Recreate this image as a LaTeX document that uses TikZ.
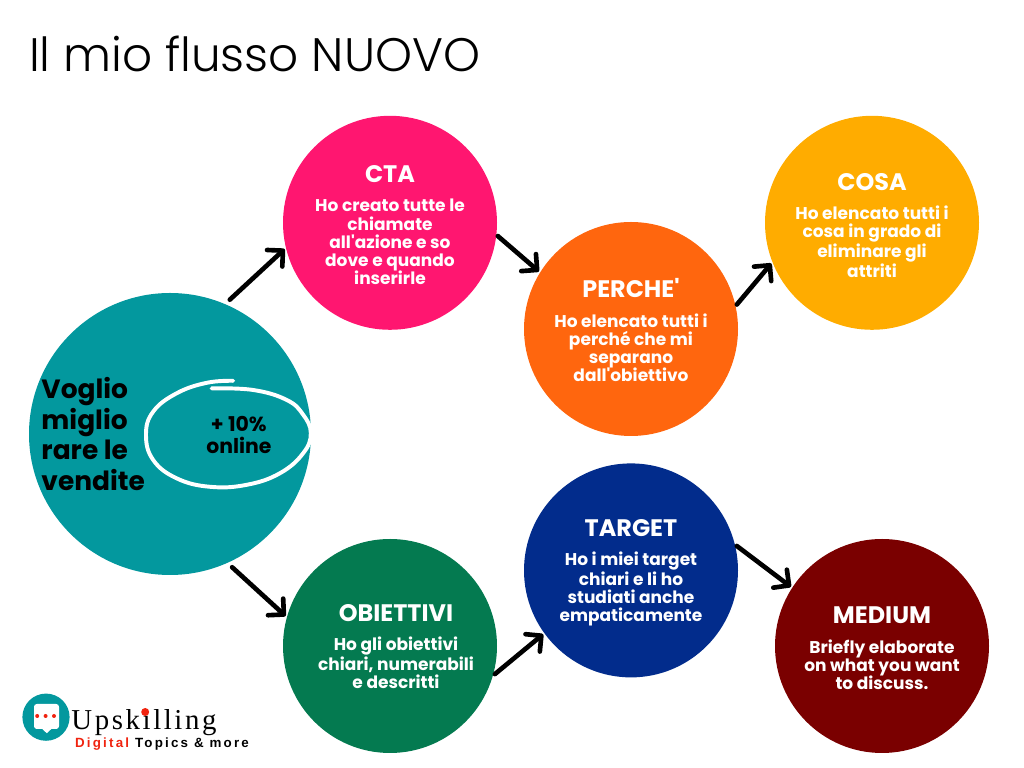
\documentclass[tikz,border=0pt]{standalone}
\usepackage{fontspec}
\setmainfont{Poppins}[Ligatures=TeXOff]
\newfontfamily\titlefont{Poppins Light}
\newfontfamily\logoserif{Liberation Serif}
\newfontfamily\logosans[LetterSpace=16.5]{Liberation Sans}
\usepackage{xcolor}
\definecolor{flowteal}{RGB}{3,152,158}
\definecolor{flowpink}{RGB}{255,22,112}
\definecolor{floworange}{RGB}{255,102,14}
\definecolor{flowamber}{RGB}{255,172,0}
\definecolor{flowgreen}{RGB}{4,122,80}
\definecolor{flowblue}{RGB}{2,44,140}
\definecolor{flowred}{RGB}{122,0,0}
\definecolor{logored}{RGB}{240,35,15}
\usetikzlibrary{arrows.meta,positioning}
\tikzset{
  flowlabel/.style={inner sep=0pt, align=center, text=white, font=\fontsize{12.1}{12.95}\selectfont\bfseries},
  flowcircle/.style={flowlabel, circle, minimum size=5.35cm, outer sep=0.04cm},
  flowarrow/.style={line width=3.3pt, line cap=round, -{Straight Barb[length=8pt, width=16pt, line width=3.3pt, round]}}
}
\newcommand{\flowhead}[1]{{\rule{0pt}{15.5pt}\fontsize{17}{20}\selectfont #1}\\[8pt]}

\begin{document}
\begin{tikzpicture}
  \useasboundingbox (0,0) rectangle (25.6,19.2);
  \node[anchor=base west, inner sep=0pt, font=\titlefont\fontsize{33.4}{38}\selectfont] (title) at (0.72,17.4) {Il mio flusso NUOVO};

  \node[circle, fill=flowteal, minimum size=7.05cm, inner sep=0pt, outer sep=0.15cm] (goal) at (4.25,8.35) {};
  \node[anchor=west, inner sep=0pt, align=left, font=\fontsize{18.8}{21.6}\selectfont\bfseries] (goaltext) at (1.03,8.35) {Voglio\\miglio\\rare le\\vendite};
  \draw[white, line width=2.8pt, line cap=round] plot[smooth, tension=0.7] coordinates {(5.83,9.68) (5.17,9.63) (4.42,9.37) (3.83,8.91) (3.65,8.33) (3.83,7.70) (4.42,7.24) (5.25,7.03) (6.17,7.08) (7.0,7.37) (7.58,7.87) (7.77,8.37) (7.58,8.83) (7.17,9.2) (6.33,9.45) (5.29,9.49)};
  \node[align=center, inner sep=0pt, font=\fontsize{14.5}{15.5}\selectfont\bfseries] (goalnote) at (5.97,8.33) {+ 10\%\\online};

  \node[flowcircle, fill=flowpink] (cta) at (9.75,13.63) {\flowhead{CTA}Ho creato tutte le\\chiamate\\all'azione e so\\dove e quando\\inserirle};
  \node[flowcircle, fill=floworange] (perche) at (15.775,10.975) {\flowhead{PERCHE'}Ho elencato tutti i\\perché che mi\\separano\\dall'obiettivo};
  \node[flowcircle, fill=flowamber] (cosa) at (21.8,13.63) {\flowhead{COSA}Ho elencato tutti i\\cosa in grado di\\eliminare gli\\attriti};
  \node[flowcircle, fill=flowgreen] (obiettivi) at (9.75,3.05) {};
  \node[flowlabel] (obiettivitext) at ([xshift=0.15cm, yshift=0.05cm]obiettivi.center) {\flowhead{OBIETTIVI}Ho gli obiettivi\\chiari, numerabili\\e descritti};
  \node[flowcircle, fill=flowblue] (target) at (15.775,4.94) {\flowhead{TARGET}Ho i miei target\\chiari e li ho\\studiati anche\\empaticamente};
  \node[flowcircle, fill=flowred] (medium) at (22.05,3.05) {\flowhead{MEDIUM}Briefly elaborate\\on what you want\\to discuss.};

  \draw[flowarrow] (goal.66) -- (cta.194);
  \draw[flowarrow] (cta.-7) -- (perche.148);
  \draw[flowarrow] (perche.13) -- (cosa.202);
  \draw[flowarrow] (goal.-65) -- (obiettivi.164);
  \draw[flowarrow] (obiettivi.-15) -- (target.216);
  \draw[flowarrow] (target.13) -- (medium.147);

  % logo
  \node[circle, fill=flowteal, minimum size=1.18cm, inner sep=0pt] (logo) at (1.15,1.27) {};
  \fill[white, rounded corners=2pt] (0.85,1.6) rectangle (1.475,0.975);
  \fill[white] (1.03,1.0) -- (1.17,0.87) -- (1.31,1.0) -- cycle;
  \foreach \xdot in {0.93,1.14,1.35} \fill[logored] (\xdot,1.3) circle (0.05);
  \node[anchor=base west, inner sep=0pt, font=\logoserif\fontsize{20.5}{22}\selectfont\addfontfeature{LetterSpace=9}] (logoname) at (1.78,0.95) {Upskilling};
  \fill[logored] (3.63,1.4) circle (0.1);
  \node[anchor=base west, inner sep=0pt, font=\logosans\bfseries\fontsize{9.5}{10}\selectfont] (logosub) at (1.87,0.52) {\textcolor{logored}{Digital} Topics \& more};
\end{tikzpicture}
\end{document}
